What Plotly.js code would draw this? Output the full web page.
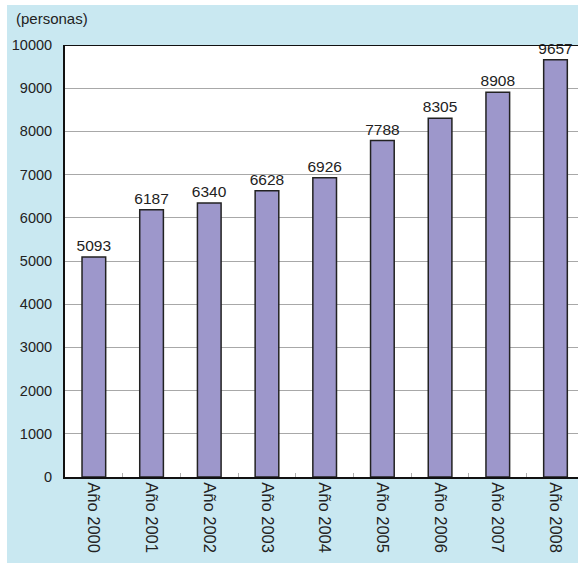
<!DOCTYPE html>
<html>
<head>
<meta charset="utf-8">
<script src="https://cdn.plot.ly/plotly-3.0.1.min.js"></script>
<style>
html,body{margin:0;padding:0;background:#ffffff;overflow:hidden;width:578px;height:563px;}
#chart{position:absolute;left:7px;top:5px;width:571px;height:560px;}
</style>
</head>
<body>
<div id="chart"></div>
<script>
const categories = ["Año 2000","Año 2001","Año 2002","Año 2003","Año 2004","Año 2005","Año 2006","Año 2007","Año 2008"];
const values = [5093, 6187, 6340, 6628, 6926, 7788, 8305, 8908, 9657];
const yTicks = [0,1000,2000,3000,4000,5000,6000,7000,8000,9000,10000];
const unitLabel = "(personas)";

const trace = {
  type: "bar",
  x: categories,
  y: values,
  width: 0.41,
  marker: {color: "#9d97cb", line: {color: "#222222", width: 1.5}},
  text: values.map(String),
  textposition: "outside",
  constraintext: "none",
  cliponaxis: false,
  textfont: {family: "Liberation Sans, Arial, sans-serif", size: 15.5, color: "#222222"},
  hoverinfo: "skip"
};

const layout = {
  width: 571, height: 560,
  margin: {l: 58, r: 0, t: 40, b: 88},
  paper_bgcolor: "#c9e8f1",
  plot_bgcolor: "#ffffff",
  showlegend: false,
  font: {family: "Liberation Sans, Arial, sans-serif", size: 14, color: "#222222"},
  xaxis: {
    type: "category",
    range: [-0.5, 8.39],
    tickangle: 90,
    tickson: "boundaries",
    ticks: "inside",
    ticklen: 4,
    tickcolor: "#b0b0b0",
    showline: true,
    linecolor: "#111111",
    linewidth: 2,
    showgrid: false,
    tickfont: {size: 16.5, color: "#222222"},
    fixedrange: true
  },
  yaxis: {
    range: [0, 10000],
    tickvals: yTicks,
    ticktext: yTicks.map(String),
    showline: true,
    linecolor: "#111111",
    linewidth: 2,
    showgrid: true,
    gridcolor: "#a8a8a8",
    gridwidth: 1,
    zeroline: false,
    ticks: "",
    ticklabelstandoff: 8,
    tickfont: {size: 14.5, color: "#222222"},
    fixedrange: true
  },
  shapes: [{
    type: "line", xref: "paper", yref: "y",
    x0: 0, x1: 1, y0: 10000, y1: 10000,
    line: {color: "#111111", width: 2}
  }],
  annotations: [{
    text: unitLabel, xref: "paper", yref: "paper",
    x: -0.099, y: 1.0625, xanchor: "left", yanchor: "middle",
    showarrow: false,
    font: {size: 15, color: "#222222"}
  }]
};

Plotly.newPlot("chart", [trace], layout, {displayModeBar: false, staticPlot: true});
</script>
</body>
</html>
